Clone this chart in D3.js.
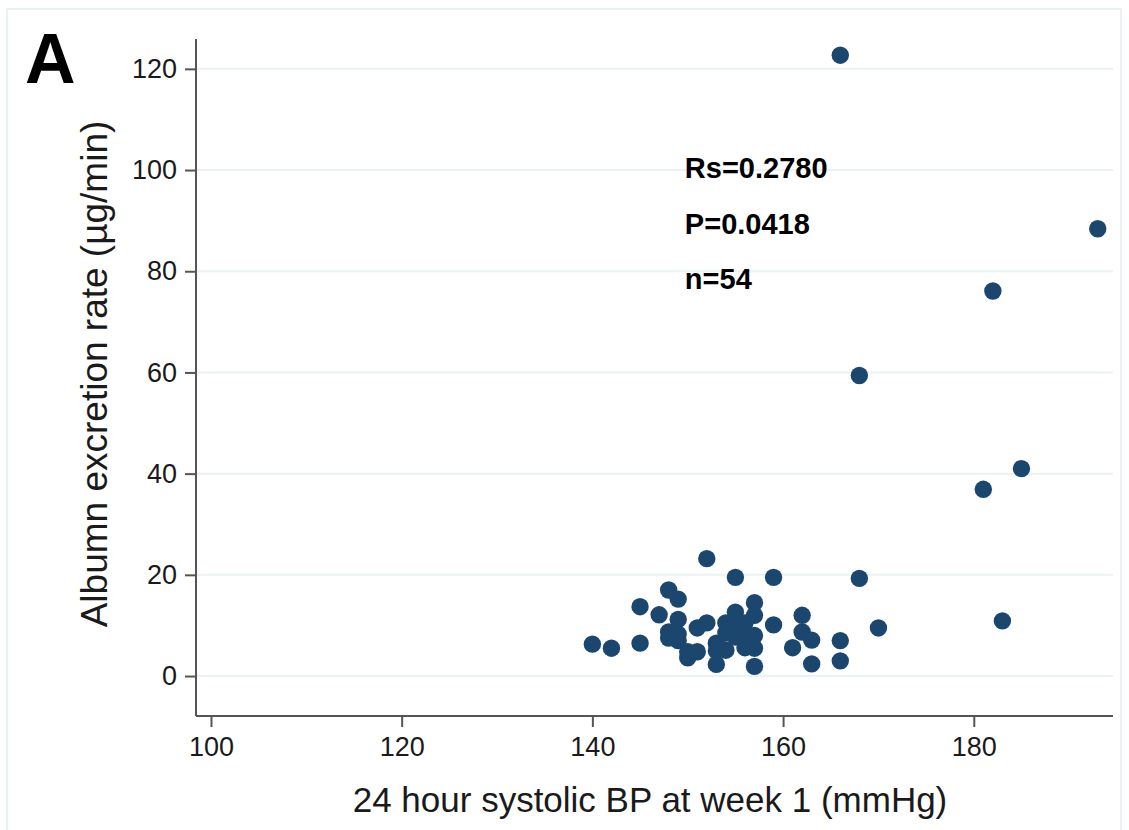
<!DOCTYPE html>
<html>
<head>
<meta charset="utf-8">
<script src="https://cdn.jsdelivr.net/npm/d3@7"></script>
<style>
  html, body { margin: 0; padding: 0; background: #fff; }
  svg text { font-family: "Liberation Sans", Arial, sans-serif; }
</style>
</head>
<body>
<svg id="chart" width="1129" height="830"></svg>
<script>
// ---- data ----
const systolicBP = [
  166, 193, 182, 168, 185, 181, 183,
  152, 155, 159, 168, 148, 149, 145, 147, 149, 157, 155, 157, 162, 159,
  170, 152, 151, 154, 148, 148, 149, 140, 142, 145, 162, 163, 161, 166,
  166, 163, 157, 153, 150, 151, 150, 153, 154, 157, 156, 155, 156, 155,
  149, 157, 153, 156, 154
];
const albuminRate = [
  122.7, 88.4, 76.1, 59.4, 41.0, 36.9, 10.9,
  23.2, 19.5, 19.5, 19.3, 17.0, 15.2, 13.7, 12.1, 11.2, 14.5, 12.6, 12.0, 12.0, 10.1,
  9.5, 10.5, 9.5, 10.5, 8.7, 7.5, 8.3, 6.3, 5.5, 6.5, 8.7, 7.1, 5.6, 7.0,
  3.0, 2.4, 1.9, 2.3, 3.6, 4.8, 4.8, 6.5, 5.1, 5.5, 5.6, 7.7, 8.6, 10.0,
  7.0, 8.0, 5.0, 10.5, 8.5
];
const xTicks = [100, 120, 140, 160, 180];
const yTicks = [0, 20, 40, 60, 80, 100, 120];
const statLabels = ["Rs=0.2780", "P=0.0418", "n=54"];
const statY = [98.5, 87.4, 76.4];
const statX = 149.7;
const panelLabel = "A";
const xTitle = "24 hour systolic BP at week 1 (mmHg)";
const yTitle = "Albumn excretion rate (\u00b5g/min)";

// ---- layout ----
const svg = d3.select("#chart");
const plot = { left: 196, right: 1113, top: 39, bottom: 716 };
const x = d3.scaleLinear().domain([98.43, 194.6]).range([plot.left, plot.right]);
const y = d3.scaleLinear().domain([-7.9, 125.9]).range([plot.bottom, plot.top]);

// outer frame
svg.append("rect")
  .attr("x", 7).attr("y", 9).attr("width", 1114).attr("height", 830)
  .attr("fill", "none").attr("stroke", "#eaf2f5").attr("stroke-width", 2);

// gridlines
svg.append("g").selectAll("line").data(yTicks).join("line")
  .attr("x1", plot.left).attr("x2", plot.right)
  .attr("y1", d => y(d)).attr("y2", d => y(d))
  .attr("stroke", "#eaf2f3").attr("stroke-width", 2);

// y axis
const yAxis = svg.append("g")
  .attr("transform", `translate(${plot.left},0)`)
  .call(d3.axisLeft(y).tickValues(yTicks).tickSize(11).tickPadding(8).tickSizeOuter(0));
yAxis.select(".domain").attr("stroke", "#555").attr("stroke-width", 2)
  .attr("d", `M0,${plot.top}V${plot.bottom}`);
yAxis.selectAll(".tick line").attr("stroke", "#555").attr("stroke-width", 2);
yAxis.selectAll(".tick text").attr("font-size", 27).attr("fill", "#1a1a1a")
  .attr("font-family", "Liberation Sans, Arial, sans-serif");

// x axis
const xAxis = svg.append("g")
  .attr("transform", `translate(0,${plot.bottom})`)
  .call(d3.axisBottom(x).tickValues(xTicks).tickSize(11).tickPadding(10).tickSizeOuter(0));
xAxis.select(".domain").attr("stroke", "#555").attr("stroke-width", 2)
  .attr("d", `M${plot.left},0H${plot.right}`);
xAxis.selectAll(".tick line").attr("stroke", "#555").attr("stroke-width", 2);
xAxis.selectAll(".tick text").attr("font-size", 27).attr("fill", "#1a1a1a")
  .attr("font-family", "Liberation Sans, Arial, sans-serif");

// points
const pts = systolicBP.map((v, i) => ({ x: v, y: albuminRate[i] }));
svg.append("g").selectAll("circle").data(pts).join("circle")
  .attr("cx", d => x(d.x)).attr("cy", d => y(d.y)).attr("r", 8.7)
  .attr("fill", "#1b476f");

// stats text
svg.append("g").selectAll("text").data(statLabels).join("text")
  .attr("x", x(statX)).attr("y", (d, i) => y(statY[i]))
  .attr("font-size", 29).attr("font-weight", "bold").attr("fill", "#000")
  .text(d => d);

// panel label
svg.append("text").attr("x", 25).attr("y", 83)
  .attr("font-size", 70).attr("font-weight", "bold").attr("fill", "#000")
  .text(panelLabel);

// axis titles
svg.append("text").attr("x", 650).attr("y", 812)
  .attr("text-anchor", "middle").attr("font-size", 35).attr("fill", "#1a1a1a")
  .text(xTitle);
svg.append("text")
  .attr("transform", `translate(107,${374}) rotate(-90)`)
  .attr("text-anchor", "middle").attr("font-size", 37).attr("fill", "#1a1a1a")
  .text(yTitle);
</script>
</body>
</html>
